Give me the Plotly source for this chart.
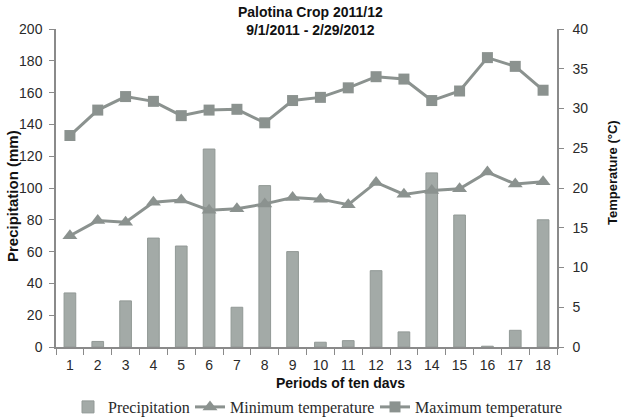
import plotly.graph_objects as go

periods = [str(i) for i in range(1, 19)]
precipitation = [34, 3.5, 29, 68.5, 63.5, 124.5, 25, 101.5, 60, 3, 4, 48, 9.5, 109.5, 83, 0.5, 10.5, 80]
min_temp = [14.0, 15.9, 15.7, 18.2, 18.5, 17.2, 17.4, 18.0, 18.8, 18.6, 17.9, 20.7, 19.2, 19.7, 19.9, 22.0, 20.5, 20.8]
max_temp = [26.6, 29.8, 31.5, 30.9, 29.1, 29.8, 29.9, 28.2, 31.0, 31.4, 32.6, 34.0, 33.7, 31.0, 32.2, 36.4, 35.3, 32.3]

line_col = "#8b928f"
bar_col = "#a3aaa7"
axis_col = "#8a8a8a"
tick_font = dict(family="Liberation Sans, Arial", size=14, color="#2a2a2a")
leg_font = dict(family="Liberation Serif, Times New Roman", size=16, color="#2a2a2a")

fig = go.Figure()
fig.add_trace(go.Bar(
    x=periods, y=precipitation, name="Precipitation",
    marker=dict(color=bar_col, line=dict(color="#929996", width=1)),
    width=0.42, yaxis="y", legend="legend",
))
fig.add_trace(go.Scatter(
    x=periods, y=min_temp, name="Minimum temperature", mode="lines+markers",
    line=dict(color=line_col, width=3),
    marker=dict(symbol="triangle-up", size=13, color=line_col),
    yaxis="y2", legend="legend2",
))
fig.add_trace(go.Scatter(
    x=periods, y=max_temp, name="Maximum temperature", mode="lines+markers",
    line=dict(color=line_col, width=3),
    marker=dict(symbol="square", size=11, color=line_col),
    yaxis="y2", legend="legend3",
))

def leg(left_px):
    return dict(
        orientation="h", x=(left_px - 56) / 501, xanchor="left", xref="paper",
        y=(347 - 407) / 318, yanchor="middle", yref="paper",
        font=leg_font, itemwidth=30, bgcolor="rgba(0,0,0,0)",
    )

fig.update_layout(
    width=624, height=419,
    margin=dict(l=56, r=67, t=29, b=72, autoexpand=False),
    paper_bgcolor="white", plot_bgcolor="white",
    showlegend=True,
    legend=leg(68), legend2=leg(190), legend3=leg(375),
    bargap=0.5,
    xaxis=dict(
        type="category", tickson="boundaries", ticks="outside", ticklen=6,
        tickcolor=axis_col, showline=True, linecolor=axis_col, linewidth=1.5,
        showgrid=False, tickfont=tick_font, range=[-0.5, 17.5],
        ticklabelstandoff=4,
    ),
    yaxis=dict(
        range=[0, 200], dtick=20, ticks="outside", ticklen=5, tickcolor=axis_col,
        showline=True, linecolor=axis_col, linewidth=1.5, showgrid=False,
        zeroline=False, tickfont=tick_font, ticklabelstandoff=4,
    ),
    yaxis2=dict(
        range=[0, 40], dtick=5, ticks="outside", ticklen=5, tickcolor=axis_col,
        showline=True, linecolor=axis_col, linewidth=1.5, showgrid=False,
        zeroline=False, tickfont=tick_font, overlaying="y", side="right",
        ticklabelstandoff=6,
    ),
    annotations=[
        dict(text="<b>Palotina Crop 2011/12<br>9/1/2011 - 2/29/2012</b>",
             xref="paper", yref="paper", x=(310 - 56) / 501, y=(347 - 21) / 318,
             showarrow=False, xanchor="center", yanchor="middle",
             font=dict(family="Liberation Sans, Arial", size=14, color="#111")),
        dict(text="<b>Precipitation (mm)</b>", textangle=-90,
             xref="paper", yref="paper", x=(12 - 56) / 501, y=(347 - 196) / 318,
             showarrow=False, xanchor="center", yanchor="middle",
             font=dict(family="Liberation Sans, Arial", size=15, color="#111")),
        dict(text="<b>Temperature (°C)</b>", textangle=-90,
             xref="paper", yref="paper", x=(612 - 56) / 501, y=(347 - 173) / 318,
             showarrow=False, xanchor="center", yanchor="middle",
             font=dict(family="Liberation Sans, Arial", size=13, color="#111")),
        dict(text="<b>Periods of ten davs</b>",
             xref="paper", yref="paper", x=(340 - 56) / 501, y=(347 - 383) / 318,
             showarrow=False, xanchor="center", yanchor="middle",
             font=dict(family="Liberation Sans, Arial", size=14, color="#111")),
    ],
)

fig.write_html("out.html")
